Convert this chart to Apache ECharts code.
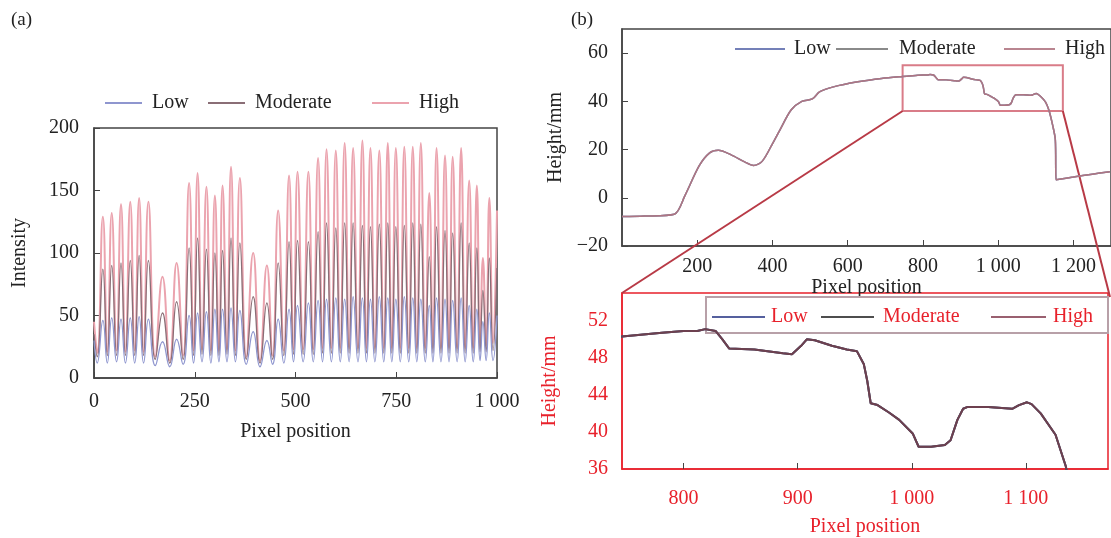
<!DOCTYPE html>
<html>
<head>
<meta charset="UTF-8">
<title></title>
<script src="https://cdn.jsdelivr.net/npm/echarts@6/dist/echarts.min.js"></script>
<style>
  html, body { margin: 0; padding: 0; background: #fff; }
  #main { width: 1111px; height: 538px; }
</style>
</head>
<body>
<div id="main"></div>
<script>
// (a) intensity profile: pixel positions of peaks and troughs
var intensityX = [0, 8, 22, 33, 44, 56, 67, 78, 90, 101, 112, 123, 135, 152, 170, 188, 205, 221, 236, 247,
  257, 268, 279, 290, 300, 310, 319, 330, 340, 351, 362, 378, 395, 412, 429, 443, 457, 471, 484, 495,
  505, 519, 532, 544, 556, 567, 577, 589, 600, 611, 622, 633, 643, 655, 666, 676, 686, 697, 708, 719,
  729, 739, 749, 760, 770, 781, 791, 801, 811, 822, 832, 841, 850, 861, 871, 881, 890, 901, 911, 921,
  931, 941, 950, 958, 965, 973, 981, 990, 1000];
var intensityLow = [30, 12, 46, 12, 48, 13, 47, 12, 48, 12,
  49, 12, 47, 10, 29, 9, 31, 11, 50, 12,
  52, 13, 53, 12, 55, 13, 55, 13, 56, 13,
  54, 11, 37, 9, 30, 11, 47, 12, 55, 13,
  58, 13, 60, 13, 62, 13, 63, 13, 64, 13,
  63, 13, 65, 13, 64, 13, 63, 13, 65, 13,
  64, 13, 63, 13, 65, 13, 64, 13, 63, 13,
  58, 13, 64, 13, 63, 13, 62, 13, 64, 13,
  58, 13, 55, 14, 45, 14, 52, 14, 50];
var intensityModerate = [35, 17, 87, 18, 90, 18, 92, 18, 94, 18,
  98, 18, 94, 15, 52, 12, 61, 15, 104, 18,
  112, 19, 103, 18, 100, 18, 102, 19, 112, 18,
  108, 15, 65, 12, 60, 15, 92, 18, 109, 19,
  110, 19, 109, 19, 117, 20, 124, 20, 120, 20,
  124, 20, 124, 20, 122, 20, 121, 20, 123, 20,
  124, 20, 121, 20, 122, 20, 124, 20, 123, 20,
  97, 20, 121, 20, 118, 20, 116, 20, 124, 20,
  108, 20, 104, 21, 70, 21, 96, 22, 88];
var intensityHigh = [45, 20, 129, 21, 132, 22, 139, 21, 141, 22,
  144, 21, 141, 17, 81, 14, 92, 18, 156, 22,
  164, 23, 153, 22, 146, 22, 154, 23, 169, 22,
  160, 17, 100, 14, 90, 18, 134, 22, 162, 23,
  165, 23, 165, 23, 176, 24, 183, 24, 182, 24,
  188, 24, 184, 24, 190, 24, 184, 24, 182, 24,
  188, 24, 184, 24, 185, 24, 185, 24, 188, 24,
  148, 24, 184, 24, 178, 24, 177, 24, 184, 24,
  158, 24, 154, 26, 96, 26, 144, 28, 134];

// (b) height profile
var heightX = [0, 60, 139, 167, 205, 233, 256, 289, 326, 350,
  373, 401, 420, 450, 478, 506, 525, 562, 627, 690,
  746, 781, 800, 812, 819, 828, 834, 840, 862, 887,
  895, 903, 908, 915, 930, 943, 952, 958, 961, 964,
  970, 980, 989, 1001, 1006, 1017, 1029, 1034, 1040, 1045,
  1049, 1067, 1088, 1094, 1101, 1105, 1113, 1126, 1135, 1145,
  1152, 1154, 1200, 1250, 1297];
var heightY = [-7.8, -7.6, -6.8, 0.8, 13.2, 18.6, 19.7, 17.9, 14.9, 13.4,
  15.2, 22.7, 28.2, 36.5, 40, 41, 43.9, 46, 48.1, 49.5,
  50.3, 50.7, 50.9, 50.9, 51.1, 50.9, 50.0, 49.0, 48.9, 48.5,
  48.4, 49.3, 50.0, 49.9, 49.3, 48.9, 48.7, 47.3, 45.5, 43.1,
  42.9, 42.1, 41.3, 39.8, 38.4, 38.4, 38.6, 39.1, 41.3, 42.5,
  42.7, 42.7, 42.5, 42.9, 43.2, 43.0, 42.0, 39.7, 36.3, 30,
  24, 7.5, 8.6, 9.8, 10.8];

// zoomed window shown in the inset
var zoomX = [746, 1172];
var zoomY = [36, 55];

var seriesNames = ['Low', 'Moderate', 'High'];

function pairs(xs, ys) {
  var out = [];
  for (var i = 0; i < xs.length; i++) out.push([xs[i], ys[i]]);
  return out;
}
function thousands(v) {
  if (v < 0) return '\u2212' + (-v);
  if (v >= 1000) return Math.floor(v / 1000) + ' ' + String(v % 1000).padStart(3, '0');
  return String(v);
}

var FONT = "'Liberation Serif', 'DejaVu Serif', serif";
var INK = '#222';
var RED = '#e8212b';

var colA = ['#8f96cf', '#8a6e76', '#eba3ae'];
var colB = ['#7d86c2', '#8a8a8a', 'rgba(185,110,128,0.75)'];
var colC = ['#55609e', '#4e4e4e', 'rgba(120,60,80,0.75)'];
var legC = ['#7480b8', '#8a8a8a', '#b98590'];

var chart = echarts.init(document.getElementById('main'));

function legendItem(name, left, top, w, color, textColor, pad) {
  return {
    data: [{ name: name, icon: 'rect', itemStyle: { color: color, borderWidth: 0 } }],
    left: left, top: top, padding: 0,
    itemWidth: w, itemHeight: 2,
    selectedMode: false,
    textStyle: { fontFamily: FONT, fontSize: 20, color: textColor, padding: [0, 0, 0, pad] }
  };
}

var series = [];
var intensityData = [intensityLow, intensityModerate, intensityHigh];
for (var i = 0; i < 3; i++) {
  series.push({
    name: seriesNames[i], type: 'line', xAxisIndex: 0, yAxisIndex: 0,
    data: pairs(intensityX, intensityData[i]), symbol: 'none', smooth: 0.5,
    z: 5 - i,
    lineStyle: { color: colA[i], width: i === 2 ? 2 : 1.3 }
  });
}
for (var j = 0; j < 3; j++) {
  var s = {
    name: seriesNames[j], type: 'line', xAxisIndex: 1, yAxisIndex: 1,
    data: pairs(heightX, heightY), symbol: 'none', smooth: 0.3,
    lineStyle: { color: colB[j], width: 1.5 }
  };
  if (j === 2) {
    s.markArea = {
      silent: true,
      itemStyle: { color: 'rgba(0,0,0,0)', borderColor: '#d97c88', borderWidth: 2 },
      data: [[{ coord: [zoomX[0], zoomY[0]] }, { coord: [zoomX[1], zoomY[1]] }]]
    };
  }
  series.push(s);
}
for (var k = 0; k < 3; k++) {
  series.push({
    name: seriesNames[k], type: 'line', xAxisIndex: 2, yAxisIndex: 2,
    data: pairs(heightX, heightY), symbol: 'none', clip: true,
    lineStyle: { color: colC[k], width: 2 }
  });
}

var option = {
  animation: false,
  backgroundColor: '#fff',
  title: [
    { text: '(a)', left: 6, top: 6, textStyle: { fontFamily: FONT, fontSize: 19, fontWeight: 'normal', color: INK } },
    { text: '(b)', left: 566, top: 6, textStyle: { fontFamily: FONT, fontSize: 19, fontWeight: 'normal', color: INK } }
  ],
  legend: [
    legendItem('Low', 105, 93, 37, colA[0], INK, 5),
    legendItem('Moderate', 208, 93, 37, colA[1], INK, 5),
    legendItem('High', 372, 93, 37, colA[2], INK, 5),
    legendItem('Low', 735, 39, 50, legC[0], INK, 4),
    legendItem('Moderate', 836, 39, 52, legC[1], INK, 6),
    legendItem('High', 1004, 39, 51, legC[2], INK, 5),
    legendItem('Low', 712, 307, 53, colC[0], RED, 1),
    legendItem('Moderate', 821, 307, 53, colC[1], RED, 4),
    legendItem('High', 991, 307, 55, '#9a6070', RED, 2)
  ],
  grid: [
    { left: 94, top: 128, width: 403, height: 250, show: true, borderColor: '#444', borderWidth: 1.5 },
    { left: 622, top: 29, width: 490.75, height: 217, show: true, borderColor: '#444', borderWidth: 1.5 },
    { left: 622, top: 293, width: 486, height: 176, show: true, borderColor: RED, borderWidth: 1.5 }
  ],
  xAxis: [
    {
      gridIndex: 0, type: 'value', min: 0, max: 1000, interval: 250,
      name: 'Pixel position', nameLocation: 'middle', nameGap: 44,
      nameTextStyle: { fontFamily: FONT, fontSize: 20, color: INK },
      axisLine: { onZero: false, lineStyle: { color: '#444', width: 1.5 } },
      axisTick: { inside: true, length: 6, lineStyle: { color: '#444' } },
      axisLabel: { fontFamily: FONT, fontSize: 20, color: INK, margin: 14, formatter: thousands },
      splitLine: { show: false }
    },
    {
      gridIndex: 1, type: 'value', min: 0, max: 1300, interval: 200,
      name: 'Pixel position', nameLocation: 'middle', nameGap: 27,
      nameTextStyle: { fontFamily: FONT, fontSize: 20, color: INK },
      axisLine: { onZero: false, lineStyle: { color: '#444', width: 1.5 } },
      axisTick: { inside: true, length: 6, lineStyle: { color: '#444' } },
      axisLabel: { fontFamily: FONT, fontSize: 20, color: INK, margin: 11, formatter: thousands, showMinLabel: false, showMaxLabel: false },
      splitLine: { show: false }
    },
    {
      gridIndex: 2, type: 'value', min: zoomX[0], max: zoomX[1], splitNumber: 5,
      name: 'Pixel position', nameLocation: 'middle', nameGap: 48,
      nameTextStyle: { fontFamily: FONT, fontSize: 20, color: RED },
      axisLine: { onZero: false, lineStyle: { color: RED, width: 1.5 } },
      axisTick: { inside: true, length: 6, lineStyle: { color: '#444' } },
      axisLabel: { fontFamily: FONT, fontSize: 20, color: RED, margin: 20, formatter: thousands, showMinLabel: false, showMaxLabel: false },
      splitLine: { show: false }
    }
  ],
  yAxis: [
    {
      gridIndex: 0, type: 'value', min: 0, max: 200, interval: 50,
      name: 'Intensity', nameLocation: 'middle', nameGap: 64,
      nameTextStyle: { fontFamily: FONT, fontSize: 20, color: INK },
      axisLine: { show: true, onZero: false, lineStyle: { color: '#444', width: 1.5 } },
      axisTick: { show: true, inside: true, length: 6, lineStyle: { color: '#444' } },
      axisLabel: { fontFamily: FONT, fontSize: 20, color: INK, margin: 15 },
      splitLine: { show: false }
    },
    {
      gridIndex: 1, type: 'value', min: -20, max: 70, interval: 20,
      name: 'Height/mm', nameLocation: 'middle', nameGap: 56,
      nameTextStyle: { fontFamily: FONT, fontSize: 20, color: INK },
      axisLine: { show: true, onZero: false, lineStyle: { color: '#444', width: 1.5 } },
      axisTick: { show: true, inside: true, length: 6, lineStyle: { color: '#444' } },
      axisLabel: { fontFamily: FONT, fontSize: 20, color: INK, margin: 14, formatter: thousands, showMaxLabel: false },
      splitLine: { show: false }
    },
    {
      gridIndex: 2, type: 'value', min: zoomY[0], max: zoomY[1], interval: 4,
      name: 'Height/mm', nameLocation: 'middle', nameGap: 62,
      nameTextStyle: { fontFamily: FONT, fontSize: 20, color: RED },
      axisLine: { show: true, onZero: false, lineStyle: { color: RED, width: 1.5 } },
      axisTick: { show: false },
      axisLabel: { fontFamily: FONT, fontSize: 20, color: RED, margin: 14, showMaxLabel: false },
      splitLine: { show: false }
    }
  ],
  series: series
};

chart.setOption(option);

// connect the marked window with the inset
var a1 = chart.convertToPixel({ gridIndex: 1 }, [zoomX[0], zoomY[0]]);
var a2 = chart.convertToPixel({ gridIndex: 1 }, [zoomX[1], zoomY[0]]);
var b1 = chart.convertToPixel({ gridIndex: 2 }, [zoomX[0], zoomY[1]]);
var b2 = chart.convertToPixel({ gridIndex: 2 }, [zoomX[1], zoomY[1]]);
chart.setOption({
  graphic: [
    { type: 'line', z: 1, shape: { x1: a1[0], y1: a1[1], x2: b1[0], y2: b1[1] }, style: { stroke: '#b83a46', lineWidth: 2 } },
    { type: 'line', z: 1, shape: { x1: a2[0], y1: a2[1], x2: b2[0] + 2, y2: b2[1] + 4 }, style: { stroke: '#b83a46', lineWidth: 2 } },
    { type: 'rect', z: 1, shape: { x: 706, y: 297, width: 402, height: 36 }, style: { fill: 'none', stroke: '#b8a0a8', lineWidth: 2 } }
  ]
});
</script>
</body>
</html>
